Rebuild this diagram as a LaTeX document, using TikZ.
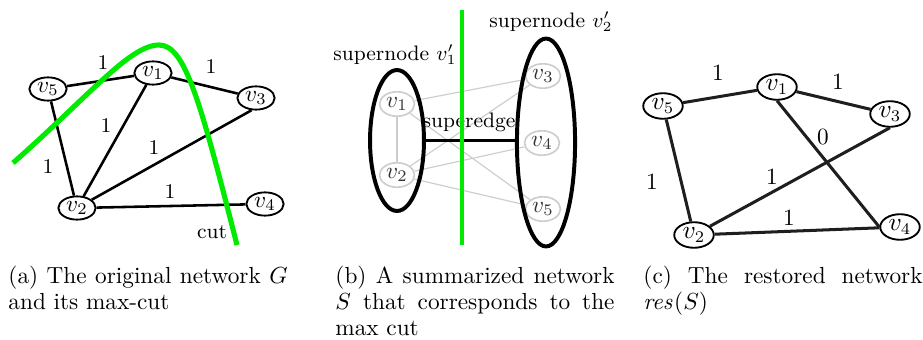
\documentclass[tikz,border=0pt]{standalone}
\usetikzlibrary{shapes.geometric}
\definecolor{cutgreen}{RGB}{0,235,0}
\definecolor{ghost}{RGB}{205,205,205}
\definecolor{edgec}{RGB}{30,30,30}
\begin{document}
\begin{tikzpicture}[x=0.43pt,y=-0.43pt,
 vnode/.style={ellipse,draw,line width=0.8pt,minimum width=16pt,minimum height=10pt,inner sep=0pt,font=\fontsize{9.6}{10}\selectfont},
 gnode/.style={ellipse,draw=ghost,line width=0.7pt,text=black!80,minimum width=15pt,minimum height=10.5pt,inner sep=0pt,font=\fontsize{9.6}{10}\selectfont},
 cnode/.style={ellipse,draw,line width=0.8pt,minimum width=17pt,minimum height=11pt,inner sep=0pt,font=\fontsize{10.5}{11}\selectfont},
 aedge/.style={line width=1.1pt},
 gedge/.style={draw=ghost,line width=0.5pt},
 cedge/.style={draw=edgec,line width=1.3pt},
 wlabel/.style={font=\fontsize{9}{10}\selectfont,inner sep=0pt},
 clabel/.style={font=\fontsize{10}{11}\selectfont,inner sep=0pt},
 supern/.style={ellipse,draw,line width=1.7pt,inner sep=0pt},
 cutline/.style={draw=cutgreen,line width=2.2pt},
 capbox/.style={anchor=base west,inner sep=0pt,text width=120pt,align=justify,font=\fontsize{10}{11.2}\selectfont}]
\useasboundingbox (0,0) rectangle (923,340);

% ---------- panel (a)
\node[vnode] (a5) at (48,89) {$v_5$};
\node[vnode] (a1) at (153,73) {$v_1$};
\node[vnode] (a3) at (256,98) {$v_3$};
\node[vnode] (a2) at (77,208) {$v_2$};
\node[vnode] (a4) at (265,204) {$v_4$};
\draw[aedge] (a5) -- (a1);
\draw[aedge] (a1) -- (a3);
\draw[aedge] (a5) -- (a2);
\draw[aedge] (a1) -- (a2);
\draw[aedge] (a3.250) -- (a2);
\draw[aedge] (a2) -- (a4);
\node[wlabel] (la1) at (103,63) {1};
\node[wlabel] (la2) at (211,67) {1};
\node[wlabel] (la3) at (106,126) {1};
\node[wlabel] (la4) at (154,148) {1};
\node[wlabel] (la5) at (48,167) {1};
\node[wlabel] (la6) at (170,192) {1};
\coordinate (cs) at (13,163);
\coordinate (cp) at (159,45);
\coordinate (ce) at (237,245);
\draw[cutline] (cs) .. controls (90,95) and (130,45) .. (cp) .. controls (185,45) and (200,100) .. (ce);
\node[wlabel] (cutl) at (212,232) {cut};

% ---------- panel (b)
\node[gnode] (b1) at (397,104) {$v_1$};
\node[gnode] (b2) at (397,175) {$v_2$};
\node[gnode] (b3) at (543,76) {$v_3$};
\node[gnode] (b4) at (542,143) {$v_4$};
\node[gnode] (b5) at (543,209) {$v_5$};
\draw[gedge] (b1) -- (b2);
\draw[gedge] (b1) -- (b3);
\draw[gedge] (b1) -- (b5);
\draw[gedge] (b2) -- (b3);
\draw[gedge] (b2) -- (b4);
\draw[gedge] (b2) -- (b5);
\node[supern,minimum width=23.2pt,minimum height=60.6pt] (L) at (397,140.5) {};
\node[supern,minimum width=25pt,minimum height=89.4pt] (R) at (546,142.5) {};
\draw[line width=1.3pt] (L.east) -- (L.east -| R.west);
\node[wlabel,anchor=base] (se) at (469,128) {superedge};
\node[wlabel,anchor=base] (sn1) at (395,61) {supernode $v'_1$};
\node[wlabel,anchor=base] (sn2) at (551,28) {supernode $v'_2$};
\coordinate (gt) at (462,10);
\coordinate (gb) at (462,245);
\draw[draw=cutgreen,line width=1.8pt] (gt) -- (gb);

% ---------- panel (c)
\node[cnode] (c5) at (663,106) {$v_5$};
\node[cnode] (c1) at (777,87) {$v_1$};
\node[cnode] (c3) at (890,114) {$v_3$};
\node[cnode] (c2) at (694,235) {$v_2$};
\node[cnode] (c4) at (900,227) {$v_4$};
\draw[cedge] (c5) -- (c1);
\draw[cedge] (c1) -- (c3);
\draw[cedge] (c5) -- (c2);
\draw[cedge] (c1.south) -- (c4.west);
\draw[cedge] (c3.south) -- (c2);
\draw[cedge] (c2) -- (c4);
\node[clabel] (lc1) at (718,73) {1};
\node[clabel] (lc2) at (838,82) {1};
\node[clabel] (lc3) at (823,137) {0};
\node[clabel] (lc4) at (772,177) {1};
\node[clabel] (lc5) at (652,182) {1};
\node[clabel] (lc6) at (789,218) {1};

% ---------- captions
\node[capbox] (capa) at (8,283) {(a) The original network $G$\linebreak and its max-cut};
\node[capbox] (capb) at (335,283) {(b) A summarized network\linebreak $S$ that corresponds to the\linebreak max cut};
\node[capbox] (capc) at (643,283) {(c) The restored network\linebreak $\mathit{res}(S)$};
\end{tikzpicture}
\end{document}
